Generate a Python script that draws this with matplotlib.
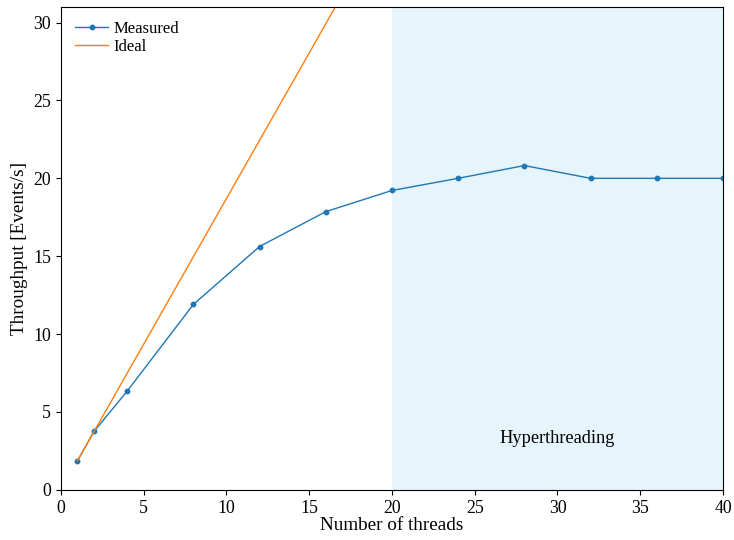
import matplotlib
matplotlib.use("Agg")
import matplotlib.pyplot as plt
import numpy as np

# Throughput scaling data
threads = [1, 2, 4, 8, 12, 16, 20, 24, 28, 32, 36, 40]
measured = [1.86, 3.75, 6.33, 11.9, 15.62, 17.86, 19.22, 20.0, 20.82, 20.0, 20.0, 20.0]
ideal_threads = [1, 40]
per_thread = 1.87

plt.rcParams["font.family"] = ["Liberation Serif", "DejaVu Serif"]
plt.rcParams["font.size"] = 12.2
plt.rcParams["mathtext.fontset"] = "stix"

fig = plt.figure(figsize=(7.34, 5.4), dpi=100)
ax = fig.add_axes([0.083, 0.093, 0.902, 0.894])

ax.axvspan(20, 40, color="#e6f4fb", zorder=0, lw=0)
ax.plot(threads, measured, color="#1f77b4", marker="o", markersize=3.2, lw=1, label="Measured")
ax.plot(ideal_threads, [per_thread * t for t in ideal_threads], color="#ff7f0e", lw=1, label="Ideal")

ax.text(30, 3.3, "Hyperthreading", ha="center", va="center", fontsize=13.2)

ax.set_xlim(0, 40)
ax.set_ylim(0, 31)
ax.set_xticks(np.arange(0, 41, 5))
ax.set_yticks(np.arange(0, 31, 5))
ax.tick_params(labelsize=12.8)
ax.set_xlabel("Number of threads", fontsize=13.8, labelpad=0)
ax.set_ylabel("Throughput [Events/s]", fontsize=13.8, labelpad=4)
ax.legend(loc="upper left", frameon=False, fontsize=12, handlelength=2.0,
          handletextpad=0.3, borderaxespad=0.45, labelspacing=0.12)

fig.savefig("out.png", dpi=100)
